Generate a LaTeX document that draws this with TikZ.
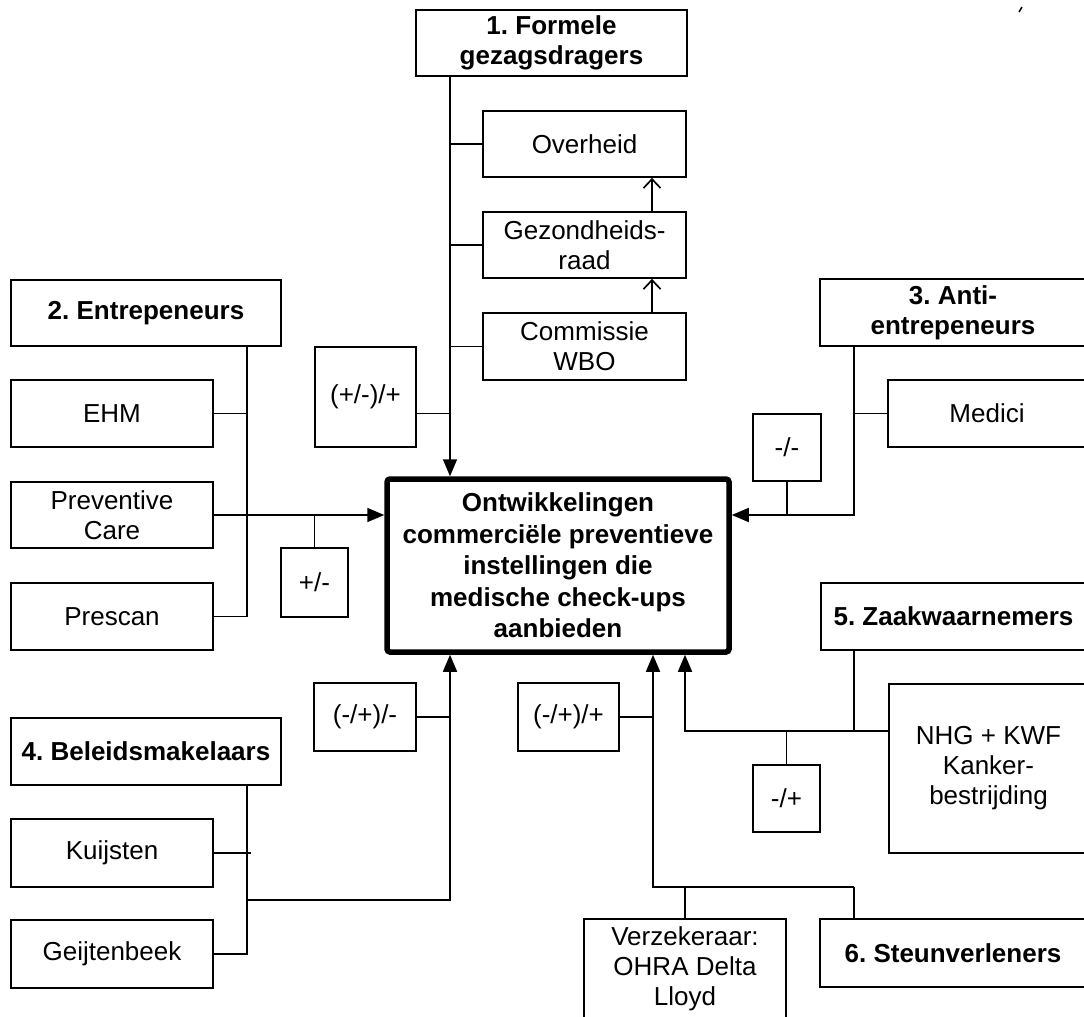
\documentclass[tikz,border=0pt]{standalone}
\usepackage{fontspec}
\setmainfont{Liberation Sans}
\usetikzlibrary{arrows.meta}

\tikzset{every picture/.style={line width=1.6pt}}

\begin{document}
\frenchspacing
\begin{tikzpicture}[x=1pt,y=1pt,yscale=-1,xscale=1,line width=1.7pt,
  box/.style={draw, line width=1.7pt, inner sep=0pt, align=center, font=\fontsize{26}{30}\selectfont},
  head/.style={box, font=\fontsize{26}{30}\selectfont\bfseries},
  tip/.style={-{Triangle[length=17pt,width=14pt]}},
  barb/.style={-{Straight Barb[length=9pt,width=17pt]}}]
	\useasboundingbox (0,0) rectangle (1084,1017);
	\clip (0,0) rectangle (1084,1017);

	% bus lines
	\coordinate (busA) at (450,0);
	\coordinate (busB) at (247,0);
	\coordinate (busC) at (854,0);
	\coordinate (busD) at (685,0);
	\coordinate (busE) at (653,0);
	\coordinate (up) at (652,0);
	\coordinate (zj) at (854,731);
	\coordinate (sj) at (854,887);
	\coordinate (kj) at (450,900);

	% Centre box
	\node[head, line width=5.5pt, rounded corners=3pt, minimum width=342pt, minimum height=173pt, font=\fontsize{26}{31.5}\selectfont\bfseries] (kern) at (558,565.5) {Ontwikkelingen\\commerciële preventieve\\instellingen die\\medische check-ups\\aanbieden};

	% 1. Formele gezagsdragers
	\node[head, minimum width=271pt, minimum height=66pt] (f1) at (551.5,43) {1. Formele\\gezagsdragers};
	\node[box, minimum width=203pt, minimum height=66pt] (ovh) at (584.5,144) {Overheid};
	\node[box, minimum width=203pt, minimum height=66pt] (gzr) at (584.5,245) {Gezondheids-\\raad};
	\node[box, minimum width=203pt, minimum height=67pt] (wbo) at (584.5,346.5) {Commissie\\WBO};
	\node[box, minimum width=101pt, minimum height=100pt] (pm1) at (365.5,397) {(+/-)/+};

	% 2. Entrepeneurs
	\node[head, minimum width=270pt, minimum height=66pt] (ent) at (146,313) {2. Entrepeneurs};
	\node[box, minimum width=202pt, minimum height=67pt] (ehm) at (112,413.5) {EHM};
	\node[box, minimum width=202pt, minimum height=66pt] (pvc) at (112,515) {Preventive\\Care};
	\node[box, minimum width=202pt, minimum height=67pt] (psc) at (112,616.5) {Prescan};
	\node[box, minimum width=67pt, minimum height=69pt] (pm2) at (314.5,582.5) {+/-};

	% 3. Anti-entrepeneurs
	\node[head, minimum width=266pt, minimum height=67pt] (anti) at (953,312.5) {3. Anti-\\entrepeneurs};
	\node[box, minimum width=198pt, minimum height=67pt] (med) at (987,413.5) {Medici};
	\node[box, minimum width=68pt, minimum height=67pt] (pm3) at (787,447.5) {-/-};

	% 4. Beleidsmakelaars
	\node[head, minimum width=270pt, minimum height=67pt] (bel) at (146,751.5) {4. Beleidsmakelaars};
	\node[box, minimum width=202pt, minimum height=68pt] (kuij) at (112,853) {Kuijsten};
	\node[box, minimum width=202pt, minimum height=68pt] (geij) at (112,954) {Geijtenbeek};
	\node[box, minimum width=102pt, minimum height=68pt] (pm4) at (365,717) {(-/+)/-};

	% 5. Zaakwaarnemers
	\node[head, minimum width=265pt, minimum height=67pt] (zaak) at (953.5,616.5) {5. Zaakwaarnemers};
	\node[box, minimum width=199pt, minimum height=169pt] (nhg) at (988.5,768.5) {NHG + KWF\\Kanker-\\bestrijding};
	\node[box, minimum width=67pt, minimum height=67pt] (pm5) at (786.5,798.5) {-/+};

	% 6. Steunverleners
	\node[head, minimum width=266pt, minimum height=68pt] (steun) at (953,953) {6. Steunverleners};
	\node[box, minimum width=202pt, minimum height=99pt] (verz) at (685,968.5) {Verzekeraar:\\OHRA Delta\\Lloyd};
	\node[box, minimum width=101pt, minimum height=68pt] (pm6) at (568.5,717) {(-/+)/+};

	% group 1
	\draw[tip] (f1.south -| busA) -- (kern.north -| busA);
	\draw (ovh.west) -- (ovh.west -| busA);
	\draw (gzr.west) -- (gzr.west -| busA);
	\draw (wbo.west) -- (wbo.west -| busA);
	\draw (pm1.east |- ehm.east) -- (ehm.east -| busA);
	\draw[barb] (gzr.north -| up) -- (ovh.south -| up);
	\draw[barb] (wbo.north -| up) -- (gzr.south -| up);

	% group 2
	\draw (ent.south -| busB) -- (psc.east -| busB) -- (psc.east);
	\draw (ehm.east) -- (ehm.east -| busB);
	\draw[tip] (pvc.east) -- (kern.west |- pvc.east);
	\draw (pm2.north) -- (pm2.north |- pvc.east);

	% group 3
	\draw[tip] (anti.south -| busC) -- (busC |- pvc.east) -- (kern.east |- pvc.east);
	\draw (med.west) -- (med.west -| busC);
	\draw (pm3.south) -- (pm3.south |- pvc.east);

	% group 4
	\draw (pm4.east) -- (pm4.east -| busA);
	\draw[tip] (busB |- kj) -- (kj) -- (kern.south -| busA);
	\draw (bel.south -| busB) -- (geij.east -| busB) -- (geij.east);
	\draw (kuij.east) -- ++(37,0);

	% group 5
	\draw (zaak.south -| busC) -- (zj);
	\draw[tip] (nhg.west |- zj) -- (busD |- zj) -- (kern.south -| busD);
	\draw (pm5.north) -- (pm5.north |- zj);

	% group 6
	\draw (pm6.east) -- (pm6.east -| busE);
	\draw[tip] (sj) -- (busE |- sj) -- (kern.south -| busE);
	\draw (verz.north) -- (verz.north |- sj);
	\draw (steun.north -| sj) -- (sj);

	% stray mark
	\draw[line width=1.5pt] (1019,12) -- (1022,7);

\end{tikzpicture}
\end{document}
